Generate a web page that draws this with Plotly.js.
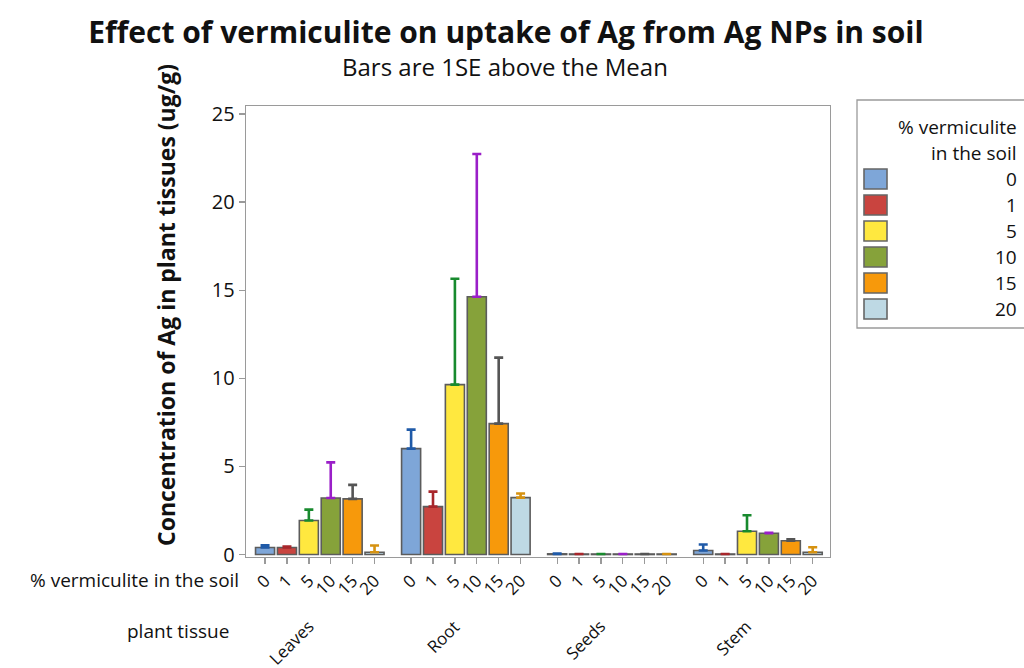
<!DOCTYPE html>
<html>
<head>
<meta charset="utf-8">
<script src="https://cdn.plot.ly/plotly-3.0.1.min.js"></script>
<style>html,body{margin:0;padding:0;background:#fff;}#chart{width:1024px;height:668px;}</style>
</head>
<body>
<div id="chart"></div>
<script>
// ---- data ----
var tissues = ['Leaves', 'Root', 'Seeds', 'Stem'];
var vermiculite = ['0', '1', '5', '10', '15', '20'];
// mean concentration (ug/g) for each vermiculite level, ordered as tissues
var mean0  = [0.40, 6.01, 0.04, 0.23];
var mean1  = [0.40, 2.72, 0.03, 0.03];
var mean5  = [1.93, 9.64, 0.03, 1.32];
var mean10 = [3.21, 14.63, 0.03, 1.21];
var mean15 = [3.16, 7.43, 0.03, 0.78];
var mean20 = [0.13, 3.23, 0.03, 0.13];
// standard errors
var se0  = [0.12, 1.08, 0.01, 0.34];
var se1  = [0.05, 0.85, 0.00, 0.00];
var se5  = [0.62, 6.01, 0.00, 0.91];
var se10 = [2.02, 8.10, 0.00, 0.03];
var se15 = [0.79, 3.74, 0.00, 0.09];
var se20 = [0.38, 0.23, 0.00, 0.28];

var means = [mean0, mean1, mean5, mean10, mean15, mean20];
var ses = [se0, se1, se5, se10, se15, se20];
var barColors = ['#7ea6d8', '#c9443f', '#ffe83f', '#86a23a', '#f7990b', '#bed9e4'];
var errColors = ['#1f5aa8', '#a8262b', '#188a2e', '#9a1fc8', '#555555', '#d69211'];

// ---- layout geometry ----
var W = 1024, H = 668;
var L = 246, R = 830, T = 106, B = 557;
var groupStep = 6.67;
var nS = vermiculite.length;
function pos(g, i) { return g * groupStep + i; }
function px2x(px) { return (px - L) / (R - L); }
function py2y(py) { return (B - py) / (B - T); }

var FONT = 'Open Sans, Noto Sans, sans-serif';
var traces = [];
var tickvals = [], ticktext = [];
for (var g = 0; g < tissues.length; g++) {
  for (var i = 0; i < nS; i++) { tickvals.push(pos(g, i)); ticktext.push(vermiculite[i]); }
}
for (var i = 0; i < nS; i++) {
  traces.push({
    type: 'bar',
    name: vermiculite[i],
    x: tissues.map(function (t, g) { return pos(g, i); }),
    y: means[i],
    width: 0.87,
    marker: { color: barColors[i], line: { color: '#5c5c5c', width: 1.6 } },
    error_y: {
      type: 'data', symmetric: false, array: ses[i],
      arrayminus: ses[i].map(function () { return 0; }),
      color: errColors[i], thickness: 2.6, width: 4.5
    },
    showlegend: false,
    hovertemplate: '%{y}<extra></extra>'
  });
}

var annotations = [];
var shapes = [];
// subtitle
annotations.push({ xref: 'paper', yref: 'paper', x: px2x(505), y: py2y(66), xanchor: 'center', yanchor: 'middle',
  text: 'Bars are 1SE above the Mean', showarrow: false, font: { family: FONT, size: 24, color: '#111' } });
// y axis title
annotations.push({ xref: 'paper', yref: 'paper', x: px2x(166), y: py2y(305), xanchor: 'center', yanchor: 'middle',
  text: '<b>Concentration of Ag in plant tissues (ug/g)</b>', textangle: -90, showarrow: false,
  font: { family: FONT, size: 23, color: '#111' } });
// level labels
annotations.push({ xref: 'paper', yref: 'paper', x: px2x(241), y: py2y(580), xanchor: 'right', yanchor: 'middle',
  text: '% vermiculite in the soil', showarrow: false, font: { family: FONT, size: 19, color: '#111' } });
annotations.push({ xref: 'paper', yref: 'paper', x: px2x(231), y: py2y(631), xanchor: 'right', yanchor: 'middle',
  text: 'plant tissue', showarrow: false, font: { family: FONT, size: 19, color: '#111' } });
// tissue labels
for (var g = 0; g < tissues.length; g++) {
  annotations.push({ xref: 'x', yref: 'paper', x: pos(g, (nS - 1) / 2) + 0.05, y: py2y(612), xanchor: 'right', yanchor: 'top',
    text: tissues[g], textangle: -45, showarrow: false, font: { family: FONT, size: 17, color: '#111' } });
}
// custom legend
shapes.push({ type: 'rect', xref: 'paper', yref: 'paper', x0: px2x(857), x1: px2x(1040), y0: py2y(100), y1: py2y(328),
  line: { color: '#9a9a9a', width: 1.3 }, fillcolor: 'rgba(0,0,0,0)' });
annotations.push({ xref: 'paper', yref: 'paper', x: px2x(1019), y: py2y(127), xanchor: 'right', yanchor: 'middle',
  text: '% vermiculite', showarrow: false, font: { family: FONT, size: 19, color: '#111' } });
annotations.push({ xref: 'paper', yref: 'paper', x: px2x(1019), y: py2y(153), xanchor: 'right', yanchor: 'middle',
  text: 'in the soil', showarrow: false, font: { family: FONT, size: 19, color: '#111' } });
for (var i = 0; i < nS; i++) {
  var cy = 179 + i * 26;
  shapes.push({ type: 'rect', xref: 'paper', yref: 'paper', x0: px2x(864), x1: px2x(887), y0: py2y(cy - 10), y1: py2y(cy + 10),
    line: { color: '#666', width: 1.6 }, fillcolor: barColors[i] });
  annotations.push({ xref: 'paper', yref: 'paper', x: px2x(1019), y: py2y(cy), xanchor: 'right', yanchor: 'middle',
    text: vermiculite[i], showarrow: false, font: { family: FONT, size: 19, color: '#111' } });
}

var layout = {
  width: W, height: H,
  margin: { l: L, r: W - R, t: T, b: H - B, pad: 0 },
  paper_bgcolor: '#fff', plot_bgcolor: '#fff',
  font: { family: FONT, color: '#111' },
  title: { text: '<b>Effect of vermiculite on uptake of Ag from Ag NPs in soil</b>', xref: 'container', yref: 'container',
    x: 506 / W, y: 1 - 32 / H, xanchor: 'center', yanchor: 'middle', font: { family: FONT, size: 30, color: '#111' } },
  barmode: 'overlay',
  xaxis: {
    range: [-0.87, 25.8], tickmode: 'array', tickvals: tickvals, ticktext: ticktext, tickangle: -45,
    ticks: 'outside', ticklen: 6, tickcolor: '#9a9a9a', tickwidth: 1.3,
    showline: true, linecolor: '#9a9a9a', linewidth: 1.3, mirror: true,
    showgrid: false, zeroline: false, tickfont: { family: FONT, size: 17, color: '#111' }, fixedrange: true
  },
  yaxis: {
    range: [-0.14, 25.45], tickvals: [0, 5, 10, 15, 20, 25],
    ticks: 'outside', ticklen: 6, tickcolor: '#9a9a9a', tickwidth: 1.3,
    showline: true, linecolor: '#9a9a9a', linewidth: 1.3, mirror: true,
    showgrid: false, zeroline: false, tickfont: { family: FONT, size: 20, color: '#111' }, fixedrange: true
  },
  annotations: annotations,
  shapes: shapes
};

Plotly.newPlot('chart', traces, layout, { displayModeBar: false, staticPlot: true });
</script>
</body>
</html>
